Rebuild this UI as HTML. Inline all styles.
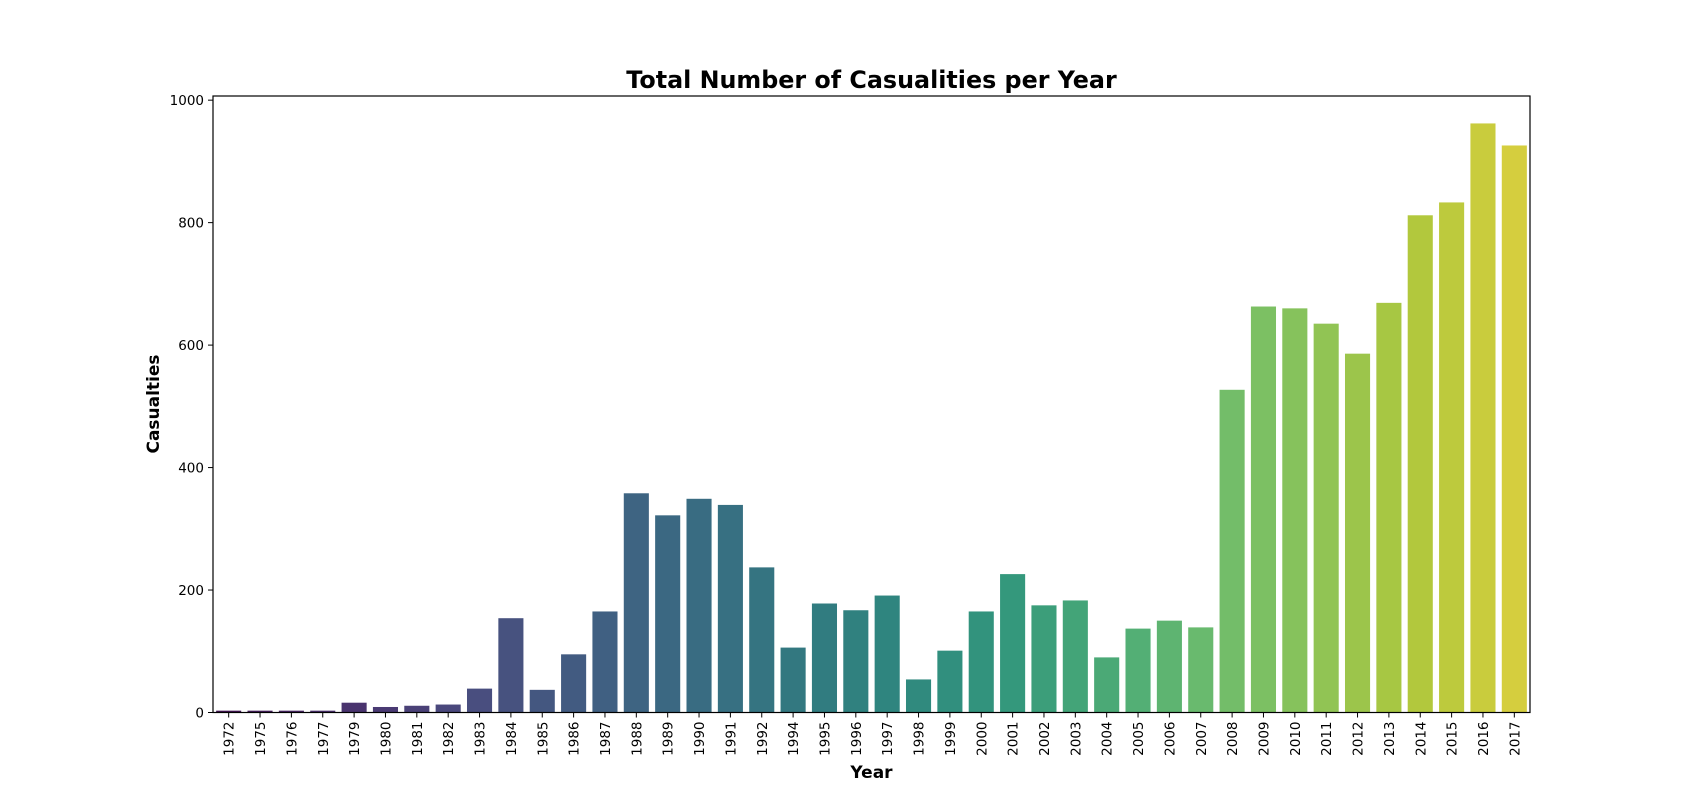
<!DOCTYPE html>
<html><head><meta charset="utf-8"><style>
html,body{margin:0;padding:0;background:#fff;}
svg{display:block;font-family:"DejaVu Sans","Liberation Sans",sans-serif;}
</style></head><body>
<svg id="chart" width="1700" height="800" viewBox="0 0 1700 800"></svg>
<script>
const years = ["1972","1975","1976","1977","1979","1980","1981","1982","1983","1984","1985","1986","1987","1988","1989","1990","1991","1992","1994","1995","1996","1997","1998","1999","2000","2001","2002","2003","2004","2005","2006","2007","2008","2009","2010","2011","2012","2013","2014","2015","2016","2017"];
const casualties = [3,3,3,3,16,9,11,13,39,154,37,95,165,358,322,349,339,237,106,178,167,191,54,101,165,226,175,183,90,137,150,139,527,663,660,635,586,669,812,833,962,926];
const yTicks = [0,200,400,600,800,1000];

const L=213,R=1530,T=96,B=712.5,YMAX=1006.8;
const svg=document.getElementById('chart');
const NS='http://www.w3.org/2000/svg';
function mk(tag,attrs,parent){const e=document.createElementNS(NS,tag);for(const k in attrs)e.setAttribute(k,attrs[k]);(parent||svg).appendChild(e);return e;}
const slot=(R-L)/years.length;
const x=i=>L+slot*i;
const y=v=>B-(v/YMAX)*(B-T);

const stops=["#440154","#482475","#414487","#355f8d","#2a788e","#21918c","#22a884","#44bf70","#7ad151","#bddf26","#fde725"];
function hex(h){return [1,3,5].map(i=>parseInt(h.substr(i,2),16)/255);}
function viridis(t){const p=t*10,i=Math.min(9,Math.floor(p)),f=p-i;const a=hex(stops[i]),b=hex(stops[i+1]);return a.map((c,k)=>c+(b[k]-c)*f);}
function desat(rgb,s){const mx=Math.max(...rgb),mn=Math.min(...rgb),l=(mx+mn)/2;
 const gray=[l,l,l];return rgb.map((c,k)=>gray[k]+(c-gray[k])*s);}
function css(rgb){return 'rgb('+rgb.map(c=>Math.round(c*255)).join(',')+')';}

const bars=mk('g',{});


casualties.forEach((v,i)=>{
 const t=(i+1)/(years.length+1);
 const r=mk('rect',{x:x(i)+slot*0.1,y:y(v),width:slot*0.8,height:B-y(v),fill:css(desat(viridis(t),0.75))},bars);
 
 
});

const yax=mk('g',{});


yTicks.forEach(v=>{
 mk('line',{x1:L-5,x2:L,y1:y(v),y2:y(v),stroke:'#000','stroke-width':1},yax);
 const t=mk('text',{x:L-9,y:y(v)+5,'text-anchor':'end','font-size':13.5},yax);
 t.textContent=v;
 
 
});
const xax=mk('g',{});


years.forEach((yr,i)=>{
 const cx=x(i)+slot/2;
 mk('line',{x1:cx,x2:cx,y1:B,y2:B+5,stroke:'#000','stroke-width':1},xax);
 const t=mk('text',{x:0,y:0,'text-anchor':'end','font-size':13.5,transform:'translate('+(cx+5)+','+(B+9)+') rotate(-90)'},xax);
 t.textContent=yr;
 
 
});
const frame=mk('rect',{x:L,y:T,width:R-L,height:B-T,fill:'none',stroke:'#000','stroke-width':1.2});



const title=mk('text',{x:(L+R)/2,y:88,'text-anchor':'middle','font-size':23.8,'font-weight':'bold'});
title.textContent='Total Number of Casualities per Year';


const xl=mk('text',{x:(L+R)/2,y:778,'text-anchor':'middle','font-size':17,'font-weight':'bold'});
xl.textContent='Year';


const yl=mk('text',{x:0,y:0,'text-anchor':'middle','font-size':17,'font-weight':'bold',transform:'translate(159,404) rotate(-90)'});
yl.textContent='Casualties';


</script>
</body></html>
